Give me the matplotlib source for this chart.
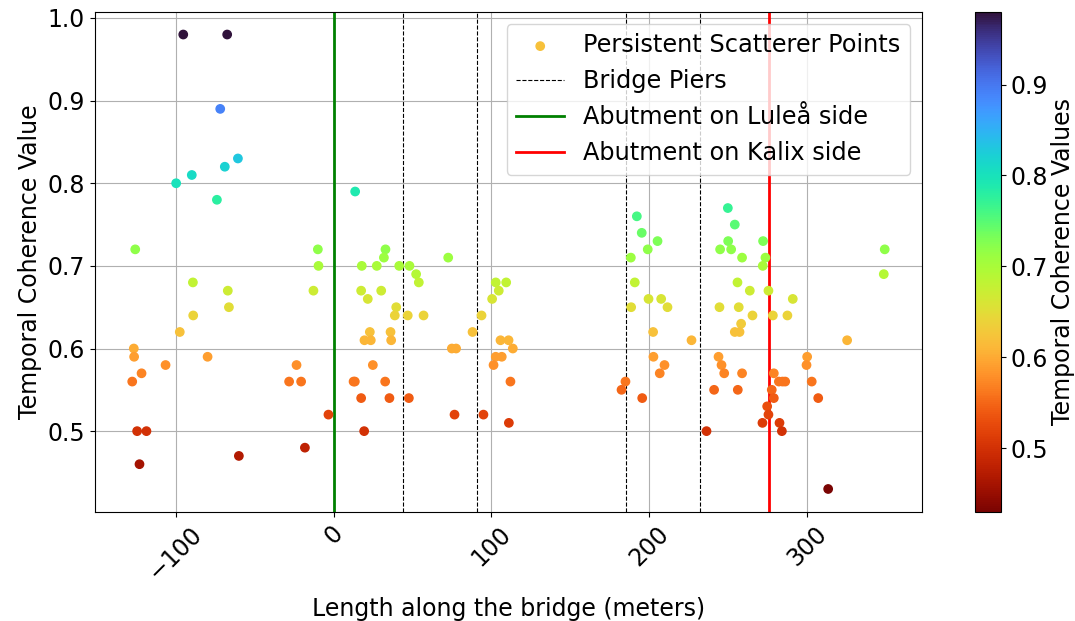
import matplotlib
matplotlib.use('Agg')
import matplotlib.pyplot as plt
import numpy as np

# Persistent scatterer points: position along bridge (m) and temporal coherence
length_m = [
    202.3,
    -95.1, -67.3, -71.7, -60.5, -68.8, -89.7, -99.6, -73.8, -125.5, -9.9,
    -9.5, -89.0, -12.7, -66.9, -66.2, -88.8, -97.3, -126.4, -126.2, -79.7,
    -106.3, -23.4, -121.5, -127.4, -28.1, -20.5, -3.2, -124.3, -118.4, -18.1,
    -122.8, -59.9,
    13.7, 32.9, 31.9, 72.6, 17.9, 27.4, 41.6, 48.1, 52.3, 54.0,
    102.7, 109.3, 17.5, 30.2, 104.6, 21.7, 100.4, 39.7, 38.8, 47.0,
    57.0, 93.7, 23.0, 36.1, 88.0, 19.6, 23.6, 36.5, 105.7, 110.8,
    74.9, 77.6, 113.5, 102.7, 106.5, 24.9, 101.3, 13.5, 32.7, 112.0,
    17.5, 35.4, 47.7, 76.6, 94.9, 111.0, 19.4, 12.7,
    249.6, 192.0, 254.0, 195.1, 205.1, 249.8, 271.9, 198.9, 244.7, 251.7,
    348.9, 188.2, 258.6, 273.4, 271.7, 190.7, 255.7, 348.3, 263.5, 275.3,
    199.4, 207.4, 290.7, 188.4, 211.4, 244.3, 256.5, 265.2, 278.1, 287.3,
    258.0, 254.0, 257.0, 226.6, 325.1, 202.5, 243.7, 299.8, 209.5,
    245.6, 299.4, 206.5, 247.3, 258.6, 278.7, 184.8, 281.9, 284.2, 285.9,
    302.7, 182.3, 240.9, 255.9, 277.4, 195.4, 278.7, 306.8, 274.5, 275.3,
    271.5, 282.3, 236.1, 283.8, 313.1,
]
coherence = [
    0.62,
    0.98, 0.98, 0.89, 0.83, 0.82, 0.81, 0.80, 0.78, 0.72, 0.72,
    0.70, 0.68, 0.67, 0.67, 0.65, 0.64, 0.62, 0.60, 0.59, 0.59,
    0.58, 0.58, 0.57, 0.56, 0.56, 0.56, 0.52, 0.50, 0.50, 0.48,
    0.46, 0.47,
    0.79, 0.72, 0.71, 0.71, 0.70, 0.70, 0.70, 0.70, 0.69, 0.68,
    0.68, 0.68, 0.67, 0.67, 0.67, 0.66, 0.66, 0.65, 0.64, 0.64,
    0.64, 0.64, 0.62, 0.62, 0.62, 0.61, 0.61, 0.61, 0.61, 0.61,
    0.60, 0.60, 0.60, 0.59, 0.59, 0.58, 0.58, 0.56, 0.56, 0.56,
    0.54, 0.54, 0.54, 0.52, 0.52, 0.51, 0.50, 0.56,
    0.77, 0.76, 0.75, 0.74, 0.73, 0.73, 0.73, 0.72, 0.72, 0.72,
    0.72, 0.71, 0.71, 0.71, 0.70, 0.68, 0.68, 0.69, 0.67, 0.67,
    0.66, 0.66, 0.66, 0.65, 0.65, 0.65, 0.65, 0.64, 0.64, 0.64,
    0.63, 0.62, 0.62, 0.61, 0.61, 0.59, 0.59, 0.59, 0.58,
    0.58, 0.58, 0.57, 0.57, 0.57, 0.57, 0.56, 0.56, 0.56, 0.56,
    0.56, 0.55, 0.55, 0.55, 0.55, 0.54, 0.54, 0.54, 0.53, 0.52,
    0.51, 0.51, 0.50, 0.50, 0.43,
]

pier_positions = [44, 91, 185, 232]
abutment_lulea = 0
abutment_kalix = 275.5

fs = 17

fig = plt.figure(figsize=(10.75, 6.21), dpi=100)
ax = fig.add_axes([0.088, 0.176, 0.770, 0.805])
cax = fig.add_axes([0.907, 0.176, 0.024, 0.805])

sc = ax.scatter(length_m, coherence, c=coherence, cmap='turbo_r',
                label='Persistent Scatterer Points', zorder=3)

for i, p in enumerate(pier_positions):
    ax.axvline(p, color='black', linestyle='--', linewidth=0.8,
               label='Bridge Piers' if i == 0 else None)
ax.axvline(abutment_lulea, color='green', linewidth=2, label='Abutment on Luleå side')
ax.axvline(abutment_kalix, color='red', linewidth=2, label='Abutment on Kalix side')

ax.set_xlabel('Length along the bridge (meters)', fontsize=fs, labelpad=9)
ax.set_ylabel('Temporal Coherence Value', fontsize=fs)
ax.tick_params(axis='both', labelsize=fs)
plt.setp(ax.get_xticklabels(), rotation=45)
ax.grid(True)
ax.legend(loc='upper right', fontsize=17.3)

cb = fig.colorbar(sc, cax=cax)
cb.set_label('Temporal Coherence Values', fontsize=fs, labelpad=2)
cb.ax.tick_params(labelsize=fs)

fig.savefig('out.png', dpi=100)
